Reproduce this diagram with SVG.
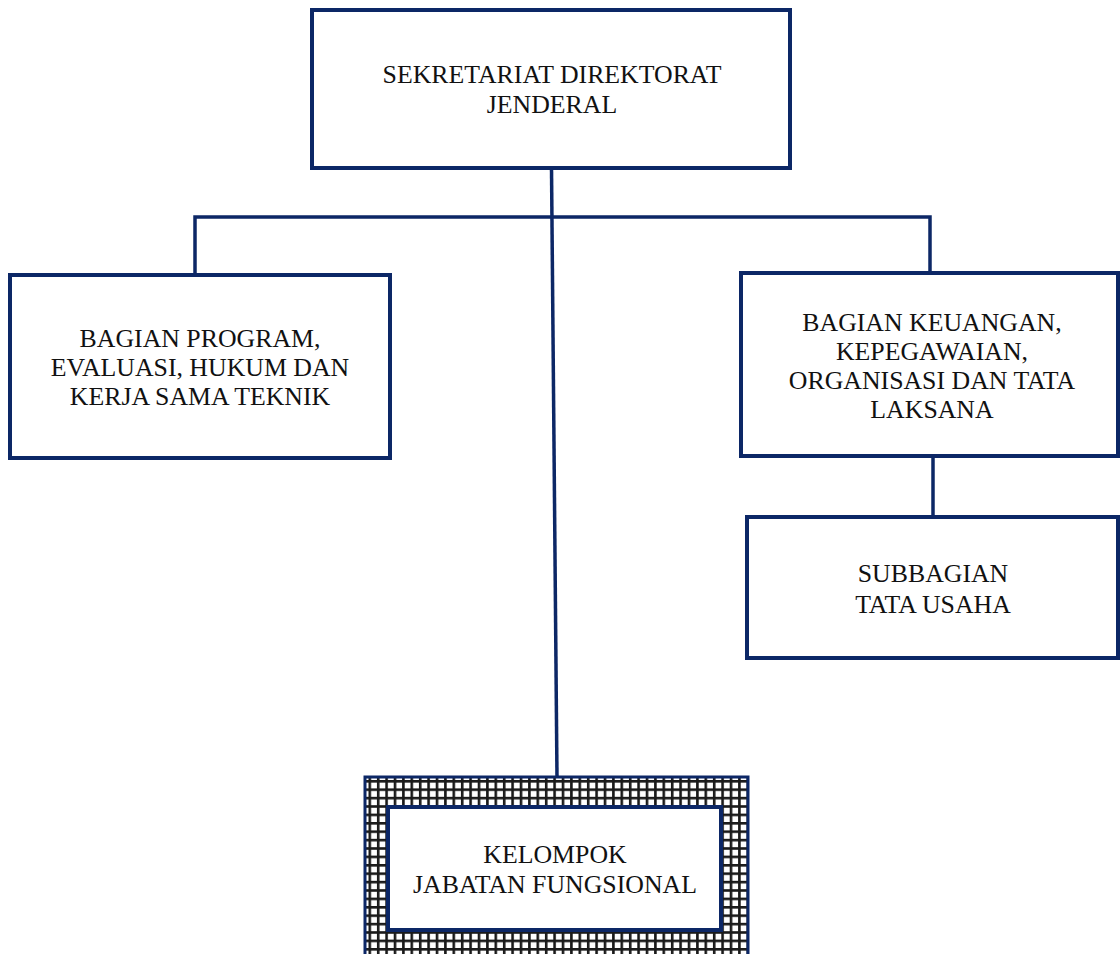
<svg xmlns="http://www.w3.org/2000/svg" width="1120" height="954" viewBox="0 0 1120 954">
<style>
.box{fill:#ffffff;stroke:#0c2766;stroke-width:4}
.ln{fill:none;stroke:#0c2766;stroke-width:3.5;stroke-linecap:butt}
.t{font-family:"Liberation Serif","Times New Roman",serif;font-size:25.8px;fill:#111111;text-anchor:middle}
</style>
<defs>
<pattern id="grid" patternUnits="userSpaceOnUse" x="368.5" y="780" width="8.4" height="8.4">
<rect x="0" y="0" width="8.4" height="8.4" fill="#ffffff"/>
<rect x="0" y="0" width="2.6" height="8.4" fill="#1a1a1a"/>
<rect x="0" y="0" width="8.4" height="2.6" fill="#1a1a1a"/>
</pattern>
</defs>
<rect x="0" y="0" width="1120" height="954" fill="#ffffff"/>
<g id="connectors">
<path class="ln" d="M195 275 V217 H930 V273"/>
<path class="ln" d="M551.5 168 L557 777"/>
<path class="ln" d="M933 456 V517"/>
</g>
<g id="sekretariat">
<rect class="box" x="312" y="10" width="478" height="158"/>
<text class="t" x="552" y="83">SEKRETARIAT DIREKTORAT</text>
<text class="t" x="552" y="113">JENDERAL</text>
</g>
<g id="bagian-program">
<rect class="box" x="10" y="275" width="380" height="183"/>
<text class="t" x="200" y="347">BAGIAN PROGRAM,</text>
<text class="t" x="200" y="376">EVALUASI, HUKUM DAN</text>
<text class="t" x="200" y="405">KERJA SAMA TEKNIK</text>
</g>
<g id="bagian-keuangan">
<rect class="box" x="741" y="273" width="377" height="183"/>
<text class="t" x="932" y="331">BAGIAN KEUANGAN,</text>
<text class="t" x="932" y="360">KEPEGAWAIAN,</text>
<text class="t" x="932" y="389">ORGANISASI DAN TATA</text>
<text class="t" x="932" y="418">LAKSANA</text>
</g>
<g id="subbagian">
<rect class="box" x="747" y="517" width="371" height="141"/>
<text class="t" x="933" y="582">SUBBAGIAN</text>
<text class="t" x="933" y="613">TATA USAHA</text>
</g>
<g id="kelompok">
<rect x="365" y="777" width="383" height="200" fill="url(#grid)" stroke="#0c2766" stroke-width="3"/>
<rect class="box" x="388" y="807" width="333" height="123"/>
<text class="t" x="555" y="863">KELOMPOK</text>
<text class="t" x="555" y="893">JABATAN FUNGSIONAL</text>
</g>
</svg>
